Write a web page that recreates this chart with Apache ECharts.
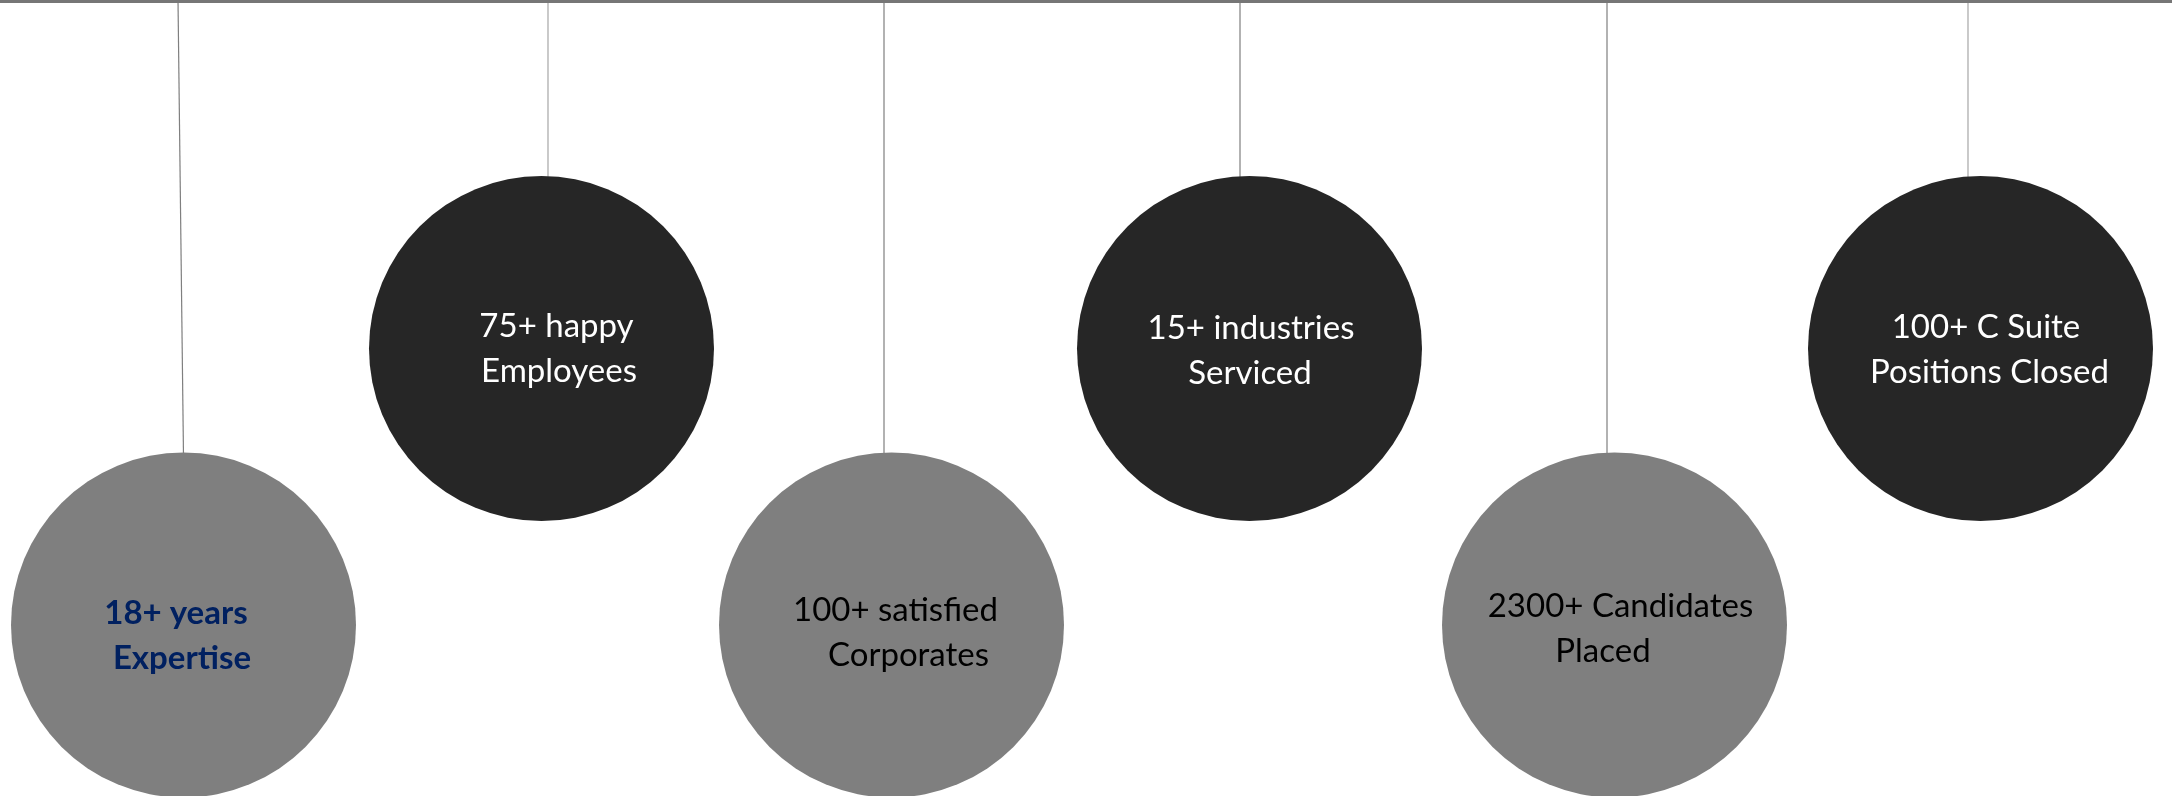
<!DOCTYPE html>
<html>
<head>
<meta charset="utf-8">
<style>
  html, body { margin: 0; padding: 0; background: #ffffff; }
  #chart { width: 2172px; height: 796px; }
</style>
<script src="https://cdn.jsdelivr.net/npm/echarts@6/dist/echarts.min.js"></script>
</head>
<body>
<div id="chart"></div>
<script>
// ---- data ----
const categories = ['Expertise', 'Employees', 'Corporates', 'Industries', 'Candidates', 'C Suite'];
const levels = [0, 1, 0, 1, 0, 1];              // 0 = hangs low, 1 = hangs high
const labelLine1 = ['18+ years', '75+ happy', '100+ satisfied', '15+ industries', '2300+ Candidates', '100+ C Suite'];
const labelLine2 = ['Expertise', 'Employees', 'Corporates', 'Serviced', 'Placed', 'Positions Closed'];

// ---- styles (pixel nudges / colours, not data) ----
const circleNudge = [0, -1.4, -10.8, -12.2, -6.6, 0];
const stringTopDx = [-5.5, 6.5, -7.5, -9.5, -7.5, -12.5];
const stringBotDx = [0, 6.5, -7.5, -9.5, -7.5, -12.5];
const stringColor = ['#7f7f7f', '#a6a6a6', '#7f7f7f', '#7f7f7f', '#7f7f7f', '#a6a6a6'];
const text1Dx = [-7.5, 15, 4, 1.5, 6, 5.5];
const text2Dx = [-1.5, 17.5, 17, 0.5, -11.5, 9];
const textDy = [-12, -22, -15, -20, -19, -21];
const circleFill = ['#7f7f7f', '#262626', '#7f7f7f', '#262626', '#7f7f7f', '#262626'];
const textFill = ['#002060', '#ffffff', '#000000', '#ffffff', '#000000', '#ffffff'];
const textWeight = ['bold', 'normal', 'normal', 'normal', 'normal', 'normal'];
const RADIUS = 172.5;
const FONT = 'Lato, "Noto Sans", sans-serif';

const seriesData = categories.map((c, i) => [i, levels[i]]);

const chart = echarts.init(document.getElementById('chart'), null, { renderer: 'canvas' });

chart.setOption({
  backgroundColor: '#ffffff',
  animation: false,
  grid: { left: 3.8, right: 11.8, top: 210.25, bottom: 32.75 },
  xAxis: {
    type: 'category', data: categories, boundaryGap: true,
    show: false
  },
  yAxis: {
    type: 'value', min: -0.5, max: 1.5, show: false
  },
  graphic: [{
    type: 'rect', left: 0, top: 0, z: 10,
    shape: { width: 2172, height: 3 },
    style: { fill: '#767676' }
  }],
  series: [{
    type: 'custom',
    data: seriesData,
    encode: { x: 0, y: 1 },
    clip: false,
    renderItem: function (params, api) {
      const i = params.dataIndex;
      const p = api.coord([api.value(0), api.value(1)]);
      const cx = p[0] + circleNudge[i];
      const cy = p[1];
      const font = textWeight[i] + ' 33px ' + FONT;
      return {
        type: 'group',
        children: [
          {
            type: 'line',
            shape: { x1: cx + stringTopDx[i], y1: 0, x2: cx + stringBotDx[i], y2: cy - RADIUS + 4 },
            style: { stroke: stringColor[i], lineWidth: 1.2 }
          },
          {
            type: 'circle',
            shape: { cx: cx, cy: cy, r: RADIUS },
            style: { fill: circleFill[i] }
          },
          {
            type: 'text',
            style: {
              text: labelLine1[i], x: cx + text1Dx[i], y: cy + textDy[i],
              align: 'center', verticalAlign: 'middle',
              font: font, fill: textFill[i]
            }
          },
          {
            type: 'text',
            style: {
              text: labelLine2[i], x: cx + text2Dx[i], y: cy + textDy[i] + 45,
              align: 'center', verticalAlign: 'middle',
              font: font, fill: textFill[i]
            }
          }
        ]
      };
    }
  }]
});
</script>
</body>
</html>
